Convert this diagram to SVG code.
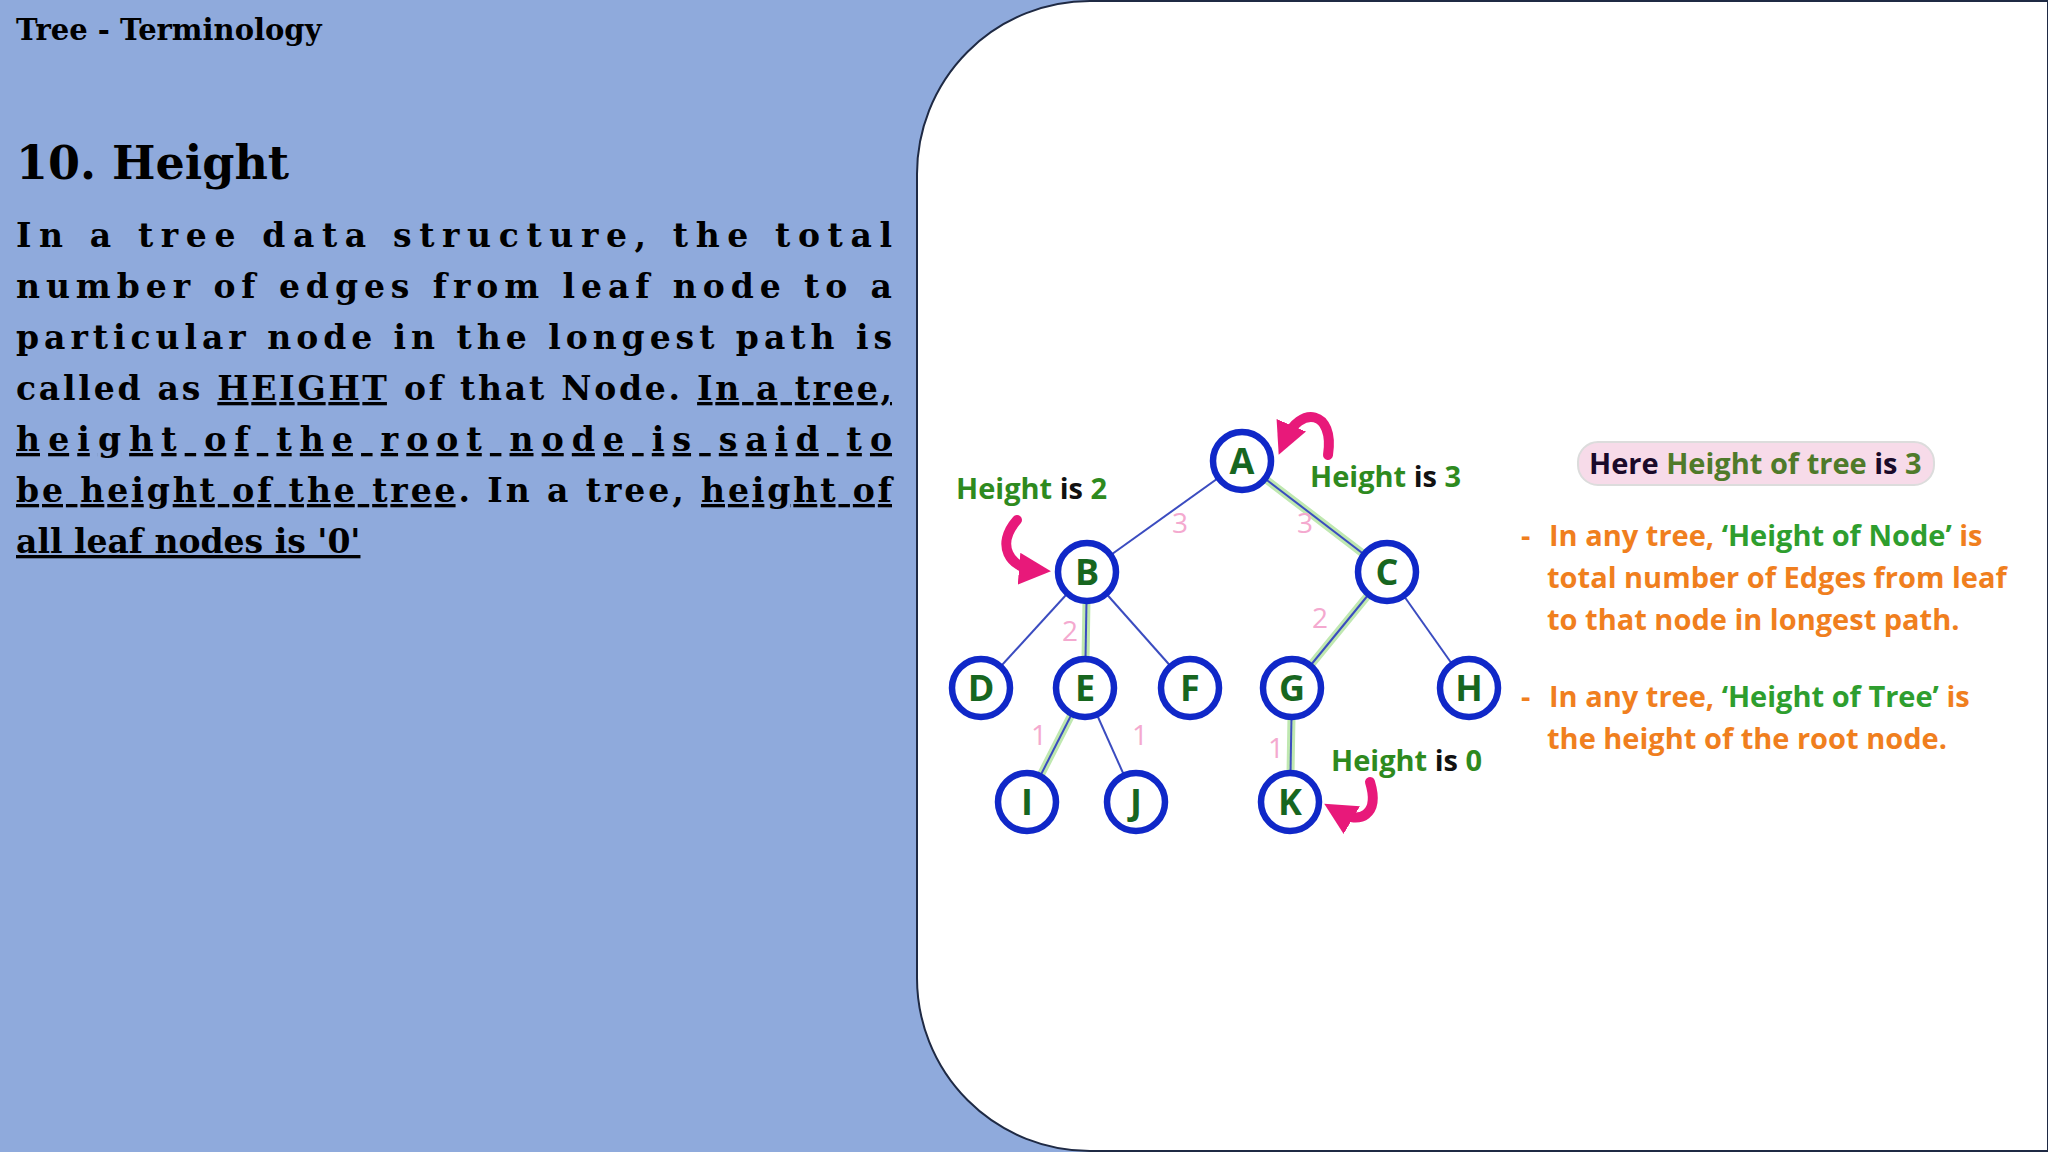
<svg xmlns="http://www.w3.org/2000/svg" width="2048" height="1152" viewBox="0 0 2048 1152">
<defs>
<style>
.body{font-family:"DejaVu Serif","Liberation Serif",serif;font-weight:bold;font-size:33px;fill:#000}
.u{text-decoration:underline}
.edge{stroke:#3b4cc0;stroke-width:2}
.hl{stroke:#bfe8b0;stroke-width:8;stroke-linecap:round}
.node circle{fill:#fff;stroke:#1028c8;stroke-width:6.5}
.node text{font-family:"Open Sans","Liberation Sans",sans-serif;font-weight:bold;font-size:36px;fill:#17661f;text-anchor:middle}
.num{font-family:"Open Sans","Liberation Sans",sans-serif;font-size:28px;fill:#f4a9cf}
.lbl{font-family:"Open Sans","Liberation Sans",sans-serif;font-weight:bold;font-size:29px;fill:#2e8a1e}
.k{fill:#111}
.or{font-family:"Open Sans","Liberation Sans",sans-serif;font-weight:bold;font-size:29px;fill:#f07f1e}
.gr{fill:#2e9e2e}
.arr{fill:none;stroke:#e8197a;stroke-width:10;stroke-linecap:round}
</style>
<marker id="ah" viewBox="0 0 10 10" refX="5" refY="5" markerWidth="3.2" markerHeight="3.2" orient="auto"><path d="M0,0L10,5L0,10z" fill="#e8197a"/></marker>
</defs>
<rect width="2048" height="1152" fill="#8faadc"/>
<path d="M1090,1 H2048 V1151 H1090 A173,173 0 0 1 917,978 V174 A173,173 0 0 1 1090,1 Z" fill="#fff" stroke="#1f2a44" stroke-width="2"/>
<text x="16" y="40" class="body" style="font-size:29px">Tree - Terminology</text>
<text x="16" y="179" class="body" style="font-size:46px">10. Height</text>
<g class="body">
<text x="16" y="247" textLength="876" lengthAdjust="spacing">In a tree data structure, the total</text>
<text x="16" y="298" textLength="876" lengthAdjust="spacing">number of edges from leaf node to a</text>
<text x="16" y="349" textLength="876" lengthAdjust="spacing">particular node in the longest path is</text>
<text x="16" y="400" textLength="876" lengthAdjust="spacing">called as <tspan class="u">HEIGHT</tspan> of that Node. <tspan class="u">In a tree,</tspan></text>
<text x="16" y="451" textLength="876" lengthAdjust="spacing" class="u">height of the root node is said to</text>
<text x="16" y="502" textLength="876" lengthAdjust="spacing"><tspan class="u">be height of the tree</tspan>. In a tree, <tspan class="u">height of</tspan></text>
<text x="16" y="553" class="u">all leaf nodes is '0'</text>
</g>
<g id="connectors">
<line class="hl" x1="1242" y1="461" x2="1387" y2="572"/>
<line class="hl" x1="1087" y1="572" x2="1085" y2="688"/>
<line class="hl" x1="1085" y1="688" x2="1027" y2="802"/>
<line class="hl" x1="1387" y1="572" x2="1292" y2="688"/>
<line class="hl" x1="1292" y1="688" x2="1290" y2="802"/>
<line class="edge" x1="1242" y1="461" x2="1087" y2="572"/>
<line class="edge" x1="1242" y1="461" x2="1387" y2="572"/>
<line class="edge" x1="1087" y1="572" x2="981" y2="688"/>
<line class="edge" x1="1087" y1="572" x2="1085" y2="688"/>
<line class="edge" x1="1087" y1="572" x2="1190" y2="688"/>
<line class="edge" x1="1387" y1="572" x2="1292" y2="688"/>
<line class="edge" x1="1387" y1="572" x2="1469" y2="688"/>
<line class="edge" x1="1085" y1="688" x2="1027" y2="802"/>
<line class="edge" x1="1085" y1="688" x2="1136" y2="802"/>
<line class="edge" x1="1292" y1="688" x2="1290" y2="802"/>
</g>
<g class="num">
<text x="1172" y="533">3</text><text x="1297" y="533">3</text>
<text x="1062" y="641">2</text><text x="1312" y="628">2</text>
<text x="1031" y="745">1</text><text x="1132" y="745">1</text><text x="1268" y="758">1</text>
</g>
<g id="nA" class="node"><circle cx="1242" cy="461" r="29"/><text x="1242" y="474">A</text></g>
<g id="nB" class="node"><circle cx="1087" cy="572" r="29"/><text x="1087" y="585">B</text></g>
<g id="nC" class="node"><circle cx="1387" cy="572" r="29"/><text x="1387" y="585">C</text></g>
<g id="nD" class="node"><circle cx="981" cy="688" r="29"/><text x="981" y="701">D</text></g>
<g id="nE" class="node"><circle cx="1085" cy="688" r="29"/><text x="1085" y="701">E</text></g>
<g id="nF" class="node"><circle cx="1190" cy="688" r="29"/><text x="1190" y="701">F</text></g>
<g id="nG" class="node"><circle cx="1292" cy="688" r="29"/><text x="1292" y="701">G</text></g>
<g id="nH" class="node"><circle cx="1469" cy="688" r="29"/><text x="1469" y="701">H</text></g>
<g id="nI" class="node"><circle cx="1027" cy="802" r="29"/><text x="1027" y="815">I</text></g>
<g id="nJ" class="node"><circle cx="1136" cy="802" r="29"/><text x="1136" y="815">J</text></g>
<g id="nK" class="node"><circle cx="1290" cy="802" r="29"/><text x="1290" y="815">K</text></g>
<g id="arrows">
<path class="arr" d="M1328,455 C1335,410 1300,405 1285,440" marker-end="url(#ah)"/>
<path class="arr" d="M1017,520 C995,545 1010,568 1035,570" marker-end="url(#ah)"/>
<path class="arr" d="M1370,782 C1380,815 1360,825 1338,812" marker-end="url(#ah)"/>
</g>
<text class="lbl" x="956" y="499">Height <tspan class="k">is</tspan> 2</text>
<text class="lbl" x="1310" y="487">Height <tspan class="k">is</tspan> 3</text>
<text class="lbl" x="1331" y="771">Height <tspan class="k">is</tspan> 0</text>
<g id="summary">
<rect x="1578" y="442" width="356" height="43" rx="20" fill="#f7dbe9" stroke="#dcdcdc" stroke-width="2"/>
<text class="lbl" x="1589" y="474" style="fill:#4f7a2a"><tspan fill="#1a0a2a">Here</tspan> Height of tree <tspan fill="#1a0a2a">is</tspan> 3</text>
</g>
<g class="or">
<text x="1521" y="546">-</text>
<text x="1549" y="546">In any tree, <tspan class="gr">‘Height of Node’</tspan> is</text>
<text x="1547" y="588">total number of Edges from leaf</text>
<text x="1547" y="630">to that node in longest path.</text>
<text x="1521" y="707">-</text>
<text x="1549" y="707">In any tree, <tspan class="gr">‘Height of Tree’</tspan> is</text>
<text x="1547" y="749">the height of the root node.</text>
</g>
</svg>
